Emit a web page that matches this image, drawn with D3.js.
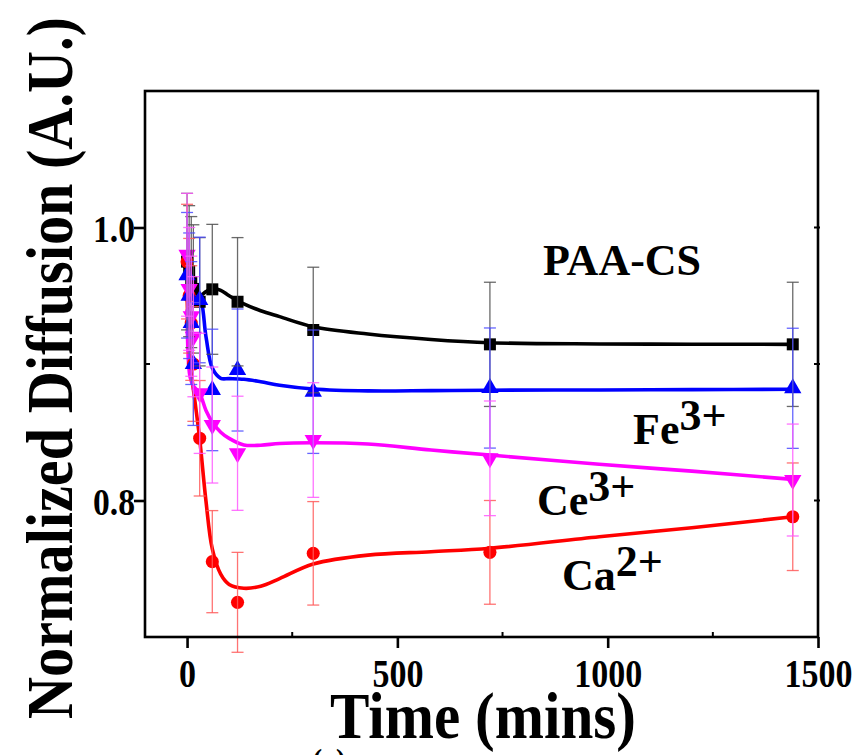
<!DOCTYPE html>
<html>
<head>
<meta charset="utf-8">
<script src="https://cdn.jsdelivr.net/npm/d3@7"></script>
<style>
  body { margin: 0; background: #fff; }
  text { font-family: "Liberation Serif", "Times New Roman", serif; font-weight: bold; }
</style>
</head>
<body>
<svg id="chart" width="858" height="755"></svg>
<script>
// Sampling times (min)
const times = [0, 5, 10, 15, 30, 60, 120, 300, 720, 1440];

// Measured normalized diffusion and standard deviations
const paaCS      = [0.975, 0.968, 0.960, 0.955, 0.9456, 0.9547, 0.9456, 0.9249, 0.9144, 0.9144];
const paaCSErr   = [0.050, 0.048, 0.048, 0.047, 0.047, 0.0476, 0.047, 0.046, 0.0455, 0.0455];
const fe3        = [0.965, 0.950, 0.930, 0.900, 0.9469, 0.8810, 0.8956, 0.8797, 0.8824, 0.8822];
const fe3Err     = [0.046, 0.046, 0.045, 0.045, 0.046, 0.0445, 0.0447, 0.0452, 0.044, 0.044];
const ce3        = [0.980, 0.955, 0.935, 0.920, 0.8785, 0.8553, 0.8346, 0.8443, 0.8309, 0.8150];
const ce3Err     = [0.045, 0.045, 0.044, 0.044, 0.044, 0.0425, 0.0418, 0.042, 0.042, 0.041];
const ca2        = [0.975, 0.950, 0.930, 0.900, 0.8456, 0.7552, 0.7254, 0.7613, 0.7620, 0.7881];
const ca2Err     = [0.042, 0.042, 0.042, 0.042, 0.0423, 0.0374, 0.0366, 0.0379, 0.038, 0.0394];

// Smoothed fit curves, sampled along time
const fitTimes   = [0, 7, 15, 30, 45, 60, 80, 100, 135, 175, 220, 300, 430, 580, 720, 980, 1200, 1440];
const paaCSFit   = [0.965, 0.958, 0.952, 0.950, 0.953, 0.9555, 0.954, 0.950, 0.944, 0.939, 0.9347, 0.9273, 0.922, 0.918, 0.9156, 0.9147, 0.9145, 0.9144];
const fe3Fit     = [0.958, 0.955, 0.952, 0.9493, 0.920, 0.897, 0.8895, 0.8893, 0.8888, 0.887, 0.8845, 0.8817, 0.8803, 0.8805, 0.8808, 0.881, 0.8812, 0.8815];
const ce3Fit     = [0.940, 0.8907, 0.884, 0.8785, 0.866, 0.8575, 0.850, 0.8455, 0.8407, 0.8405, 0.8418, 0.8423, 0.8414, 0.837, 0.8333, 0.8265, 0.8215, 0.8155];
const ca2Fit     = [0.950, 0.9005, 0.8815, 0.845, 0.7994, 0.7645, 0.746, 0.7385, 0.7357, 0.7372, 0.7428, 0.7535, 0.7600, 0.7625, 0.765, 0.7735, 0.780, 0.7881];

// Axis ticks
const xTicks = [0, 500, 1000, 1500];
const xMinorTicks = [250, 750, 1250];
const yTicks = [0.8, 1.0];
const yMinorTicks = [0.9];

const series = [
  { name: "PAA-CS", values: paaCS, errors: paaCSErr, fit: paaCSFit, color: "#000000", bar: "#505050", symbol: d3.symbolSquare, size: 144, rotate: 0 },
  { name: "Ca2+",   values: ca2,   errors: ca2Err,   fit: ca2Fit,   color: "#ff0000", bar: "#ff5a5a", symbol: d3.symbolCircle, size: 135, rotate: 0 },
  { name: "Fe3+",   values: fe3,   errors: fe3Err,   fit: fe3Fit,   color: "#0000ff", bar: "#4a4aff", symbol: d3.symbolTriangle, size: 130, rotate: 0 },
  { name: "Ce3+",   values: ce3,   errors: ce3Err,   fit: ce3Fit,   color: "#ff00ff", bar: "#ff5aff", symbol: d3.symbolTriangle, size: 130, rotate: 180 }
];

const svg = d3.select("#chart");
const x = d3.scaleLinear().domain([-100, 1500]).range([145, 818]);
const y = d3.scaleLinear().domain([0.7, 1.1]).range([637, 91]);

// Fit curves
const line = d3.line()
  .x((d, i) => x(fitTimes[i]))
  .y(d => y(d))
  .curve(d3.curveCatmullRom.alpha(0.5));

series.forEach(s => {
  svg.append("path")
    .attr("d", line(s.fit))
    .attr("fill", "none")
    .attr("stroke", s.color)
    .attr("stroke-width", 3.6)
    .attr("stroke-linejoin", "round");
});

// Markers
series.forEach(s => {
  const sym = d3.symbol().type(s.symbol).size(s.size);
  svg.append("g").selectAll("path")
    .data(s.values)
    .join("path")
    .attr("d", sym)
    .attr("transform", (d, i) => `translate(${x(times[i])},${y(d)}) rotate(${s.rotate})`)
    .attr("fill", s.color);
});

// Error bars
const capHalf = 6;
series.forEach(s => {
  const g = svg.append("g")
    .attr("stroke", s.bar)
    .attr("stroke-width", 1.3)
    .attr("stroke-opacity", 0.85)
    .attr("fill", "none");
  s.values.forEach((v, i) => {
    const cx = x(times[i]);
    const top = y(v + s.errors[i]);
    const bot = y(v - s.errors[i]);
    g.append("line").attr("x1", cx).attr("x2", cx).attr("y1", top).attr("y2", bot);
    g.append("line").attr("x1", cx - capHalf).attr("x2", cx + capHalf).attr("y1", top).attr("y2", top);
    g.append("line").attr("x1", cx - capHalf).attr("x2", cx + capHalf).attr("y1", bot).attr("y2", bot);
  });
});

// Frame
const [x0, x1] = x.range();
const [yb, yt] = y.range();
svg.append("rect")
  .attr("x", x0).attr("y", yt)
  .attr("width", x1 - x0).attr("height", yb - yt)
  .attr("fill", "none")
  .attr("stroke", "#000")
  .attr("stroke-width", 2.6);

// Bottom axis: major ticks outward, minor ticks inward
const xAxis = svg.append("g")
  .attr("transform", `translate(0,${yb})`)
  .call(d3.axisBottom(x).tickValues(xTicks).tickSize(11).tickFormat(d3.format("d")));
xAxis.select(".domain").remove();
xAxis.selectAll(".tick line").attr("stroke-width", 2.6);
xAxis.selectAll(".tick text")
  .attr("y", 50)
  .attr("dy", null)
  .attr("font-size", 40)
  .attr("font-family", "Liberation Serif, serif")
  .attr("font-weight", "bold")
  .attr("fill", "#000")
  .each(function(d) {
    const n = String(d).length;
    d3.select(this).attr("textLength", n * 17).attr("lengthAdjust", "spacingAndGlyphs");
  });
svg.append("g").selectAll("line")
  .data(xMinorTicks)
  .join("line")
  .attr("x1", d => x(d)).attr("x2", d => x(d))
  .attr("y1", yb).attr("y2", yb - 5)
  .attr("stroke", "#000").attr("stroke-width", 2);

// Left axis
const yAxis = svg.append("g")
  .attr("transform", `translate(${x0},0)`)
  .call(d3.axisLeft(y).tickValues(yTicks).tickSize(11).tickFormat(d3.format(".1f")));
yAxis.select(".domain").remove();
yAxis.selectAll(".tick line").attr("stroke-width", 2.6);
yAxis.selectAll(".tick text")
  .attr("x", -10)
  .attr("dy", "0.36em")
  .attr("font-size", 38)
  .attr("font-family", "Liberation Serif, serif")
  .attr("font-weight", "bold")
  .attr("fill", "#000")
  .attr("textLength", 42)
  .attr("lengthAdjust", "spacingAndGlyphs");
svg.append("g").selectAll("line")
  .data(yMinorTicks)
  .join("line")
  .attr("x1", x0).attr("x2", x0 + 5)
  .attr("y1", d => y(d)).attr("y2", d => y(d))
  .attr("stroke", "#000").attr("stroke-width", 2);

// Right axis small ticks
svg.append("g").selectAll("line")
  .data(yTicks.concat(yMinorTicks))
  .join("line")
  .attr("x1", x1 - 4).attr("x2", x1 + 2)
  .attr("y1", d => y(d)).attr("y2", d => y(d))
  .attr("stroke", "#000").attr("stroke-width", 2);

// Axis titles
svg.append("text")
  .attr("x", 483).attr("y", 738)
  .attr("text-anchor", "middle")
  .attr("font-size", 66)
  .attr("textLength", 306)
  .attr("lengthAdjust", "spacingAndGlyphs")
  .text("Time (mins)");

svg.append("text")
  .attr("transform", "translate(72,368) rotate(-90)")
  .attr("text-anchor", "middle")
  .attr("font-size", 66)
  .attr("textLength", 702)
  .attr("lengthAdjust", "spacingAndGlyphs")
  .text("Normalized Diffusion (A.U.)");

// Series labels
function ionLabel(px, py, base, sup) {
  const t = svg.append("text")
    .attr("x", px).attr("y", py)
    .attr("font-size", 44);
  t.append("tspan").text(base);
  if (sup) t.append("tspan").attr("dy", -14).text(sup);
}
ionLabel(543, 275, "PAA-CS");
ionLabel(633, 444, "Fe", "3+");
ionLabel(537, 515, "Ce", "3+");
ionLabel(562, 590, "Ca", "2+");

// Panel tag
svg.append("text")
  .attr("x", 329).attr("y", 768)
  .attr("text-anchor", "middle")
  .attr("font-size", 28)
  .attr("font-weight", "normal")
  .text("(a)");
</script>
</body>
</html>
